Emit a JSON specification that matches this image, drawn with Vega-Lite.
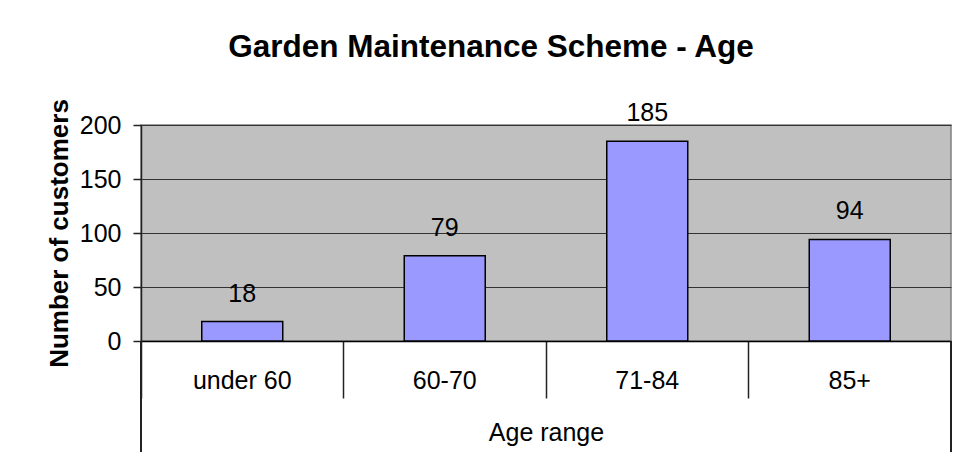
{
  "$schema": "https://vega.github.io/schema/vega-lite/v6.json",
  "width": 810,
  "height": 216,
  "autosize": {"type": "none"},
  "padding": {"left": 141, "top": 125, "right": 5, "bottom": 132},
  "background": "white",
  "title": {
    "text": "Garden Maintenance Scheme - Age",
    "font": "Liberation Sans",
    "fontSize": 31.5,
    "fontWeight": "bold",
    "color": "black",
    "anchor": "middle",
    "dx": -55,
    "baseline": "alphabetic",
    "offset": 10
  },
  "config": {
    "view": {"fill": "#C0C0C0", "stroke": "#808080", "strokeWidth": 1.5},
    "font": "Liberation Sans"
  },
  "data": {
    "values": [
      {"age": "under 60", "customers": 18},
      {"age": "60-70", "customers": 79},
      {"age": "71-84", "customers": 185},
      {"age": "85+", "customers": 94}
    ]
  },
  "encoding": {
    "x": {
      "field": "age",
      "type": "nominal",
      "sort": null,
      "scale": {"paddingInner": 0, "paddingOuter": 0},
      "axis": {
        "title": "Age range",
        "bandPosition": 0,
        "labelAngle": 0,
        "labelFont": "Liberation Sans",
        "labelFontSize": 25,
        "labelColor": "black",
        "labelBaseline": "alphabetic",
        "labelPadding": -10,
        "tickSize": 57,
        "tickColor": "#222222",
        "tickWidth": 1.5,
        "domainColor": "black",
        "domainWidth": 1.5,
        "titleFont": "Liberation Sans",
        "titleFontSize": 25,
        "titleFontWeight": "normal",
        "titleColor": "black",
        "titleBaseline": "alphabetic",
        "titleY": 99
      }
    },
    "y": {
      "field": "customers",
      "type": "quantitative",
      "scale": {"domain": [0, 200], "nice": false, "zero": true},
      "axis": {
        "title": "Number of customers",
        "values": [0, 50, 100, 150, 200],
        "grid": true,
        "gridColor": "#333333",
        "gridWidth": 1.2,
        "domainColor": "#222222",
        "domainWidth": 1.5,
        "tickColor": "#222222",
        "tickWidth": 1.5,
        "tickSize": 8,
        "labelFont": "Liberation Sans",
        "labelFontSize": 25,
        "labelColor": "black",
        "labelPadding": 12,
        "titleFont": "Liberation Sans",
        "titleFontSize": 26,
        "titleFontWeight": "bold",
        "titleColor": "black",
        "titlePadding": 7
      }
    }
  },
  "layer": [
    {
      "mark": {"type": "bar", "width": {"band": 0.4}, "fill": "#9999FF", "stroke": "black", "strokeWidth": 1.5}
    },
    {
      "mark": {"type": "text", "font": "Liberation Sans", "fontSize": 25, "color": "black", "baseline": "alphabetic", "dy": -20},
      "encoding": {"text": {"field": "customers", "type": "quantitative"}}
    },
    {
      "mark": {"type": "rule", "color": "#222222", "strokeWidth": 1.5, "clip": false},
      "encoding": {
        "x": {"datum": "under 60", "bandPosition": 0},
        "y": {"datum": 0},
        "y2": {"datum": -102.8}
      }
    },
    {
      "mark": {"type": "rule", "color": "#222222", "strokeWidth": 1.5, "clip": false},
      "encoding": {
        "x": {"datum": "85+", "bandPosition": 1},
        "y": {"datum": 0},
        "y2": {"datum": -102.8}
      }
    }
  ]
}
